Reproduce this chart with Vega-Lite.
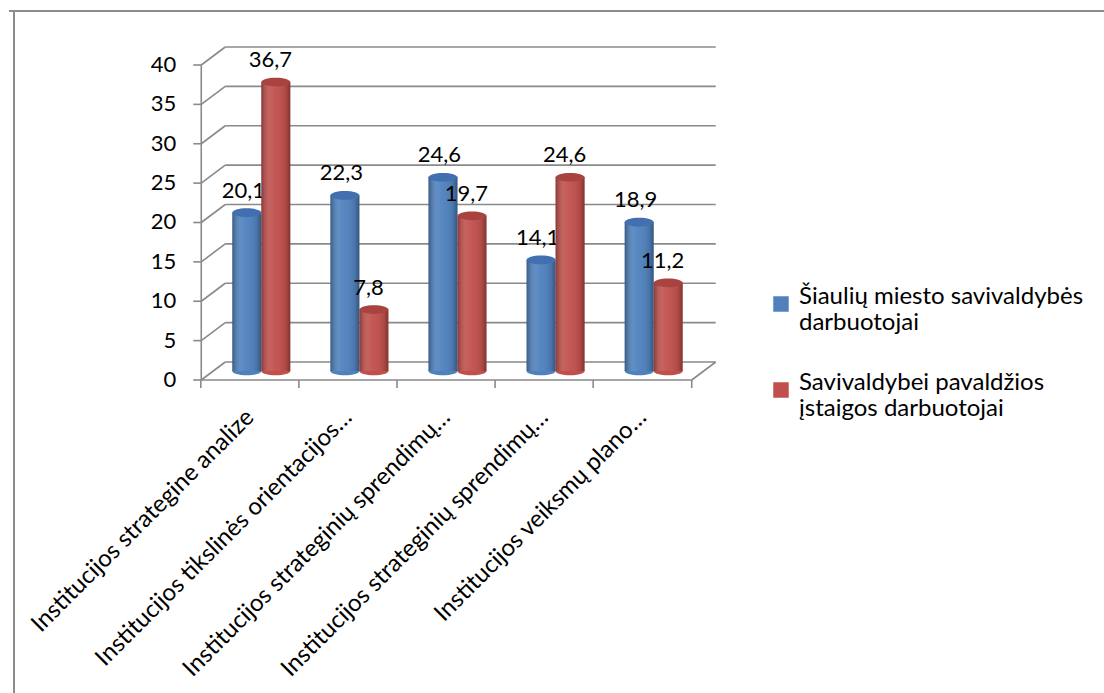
{
  "$schema": "https://vega.github.io/schema/vega-lite/v6.json",
  "width": 1095,
  "height": 682,
  "autosize": "none",
  "padding": {"left": 9, "top": 11, "right": 0, "bottom": 0},
  "background": "white",
  "datasets": {
    "duomenys": [
      {"nr": 1, "kategorija": "Institucijos strategine analize", "grupe": "Šiaulių miesto savivaldybės darbuotojai", "reiksme": 20.1},
      {"nr": 1, "kategorija": "Institucijos strategine analize", "grupe": "Savivaldybei pavaldžios įstaigos darbuotojai", "reiksme": 36.7},
      {"nr": 2, "kategorija": "Institucijos tikslinės orientacijos…", "grupe": "Šiaulių miesto savivaldybės darbuotojai", "reiksme": 22.3},
      {"nr": 2, "kategorija": "Institucijos tikslinės orientacijos…", "grupe": "Savivaldybei pavaldžios įstaigos darbuotojai", "reiksme": 7.8},
      {"nr": 3, "kategorija": "Institucijos strateginių sprendimų…", "grupe": "Šiaulių miesto savivaldybės darbuotojai", "reiksme": 24.6},
      {"nr": 3, "kategorija": "Institucijos strateginių sprendimų…", "grupe": "Savivaldybei pavaldžios įstaigos darbuotojai", "reiksme": 19.7},
      {"nr": 4, "kategorija": "Institucijos strateginių sprendimų…", "grupe": "Šiaulių miesto savivaldybės darbuotojai", "reiksme": 14.1},
      {"nr": 4, "kategorija": "Institucijos strateginių sprendimų…", "grupe": "Savivaldybei pavaldžios įstaigos darbuotojai", "reiksme": 24.6},
      {"nr": 5, "kategorija": "Institucijos veiksmų plano…", "grupe": "Šiaulių miesto savivaldybės darbuotojai", "reiksme": 18.9},
      {"nr": 5, "kategorija": "Institucijos veiksmų plano…", "grupe": "Savivaldybei pavaldžios įstaigos darbuotojai", "reiksme": 11.2}
    ],
    "tinklelis": [
      {"v": 0}, {"v": 5}, {"v": 10}, {"v": 15}, {"v": 20},
      {"v": 25}, {"v": 30}, {"v": 35}, {"v": 40}
    ]
  },
  "config": {
    "view": {"stroke": null},
    "font": "Lato",
    "locale": {
      "number": {"decimal": ",", "thousands": " ", "grouping": [3], "currency": ["", ""]}
    },
    "legend": {
      "labelFont": "Lato",
      "labelFontSize": 24,
      "labelColor": "#000000",
      "labelLimit": 400,
      "labelBaseline": "alphabetic",
      "labelOffset": 6,
      "symbolType": "square",
      "symbolSize": 240,
      "symbolStrokeWidth": 0,
      "rowPadding": 36,
      "padding": 0
    }
  },
  "layer": [
    {
      "description": "outer frame, top edge",
      "data": {"values": [{}]},
      "mark": {"type": "rule", "color": "#8C8C8C", "strokeWidth": 2},
      "encoding": {
        "y": {"datum": 46.857, "type": "quantitative", "scale": {"domain": [-39.746, 46.857], "nice": false, "zero": false}, "axis": null}
      }
    },
    {
      "description": "outer frame, left edge",
      "data": {"values": [{}]},
      "mark": {"type": "rule", "color": "#8C8C8C", "strokeWidth": 2},
      "encoding": {
        "x": {"datum": -1.409, "type": "quantitative", "scale": {"domain": [-1.409, 9.652], "nice": false, "zero": false}, "axis": null}
      }
    },
    {
      "description": "back wall gridlines",
      "data": {"name": "tinklelis"},
      "mark": {"type": "rule", "color": "#8A8A8A", "strokeWidth": 1.6, "xOffset": 24, "x2Offset": 24, "yOffset": -18},
      "encoding": {
        "x": {"datum": 0.5, "type": "quantitative"},
        "x2": {"datum": 5.5},
        "y": {"field": "v", "type": "quantitative"}
      }
    },
    {
      "description": "side wall diagonals",
      "data": {"name": "tinklelis"},
      "mark": {"type": "rule", "color": "#8A8A8A", "strokeWidth": 1.6, "x2Offset": 24, "y2Offset": -18},
      "encoding": {
        "x": {"datum": 0.5, "type": "quantitative"},
        "x2": {"datum": 0.5},
        "y": {"field": "v", "type": "quantitative"},
        "y2": {"field": "v"}
      }
    },
    {
      "description": "value axis ticks",
      "data": {"name": "tinklelis"},
      "mark": {"type": "rule", "color": "#8A8A8A", "strokeWidth": 1.6, "xOffset": -8},
      "encoding": {
        "x": {"datum": 0.5, "type": "quantitative"},
        "x2": {"datum": 0.5},
        "y": {"field": "v", "type": "quantitative"}
      }
    },
    {
      "description": "value axis labels",
      "data": {"name": "tinklelis"},
      "mark": {"type": "text", "align": "right", "baseline": "middle", "dx": -25, "fontSize": 22, "color": "#000000"},
      "encoding": {
        "x": {"datum": 0.5, "type": "quantitative"},
        "y": {"field": "v", "type": "quantitative"},
        "text": {"field": "v", "type": "quantitative", "format": "d"}
      }
    },
    {
      "description": "value axis line",
      "data": {"values": [{}]},
      "mark": {"type": "rule", "color": "#8A8A8A", "strokeWidth": 1.6},
      "encoding": {
        "x": {"datum": 0.5, "type": "quantitative"},
        "y": {"datum": 0, "type": "quantitative"},
        "y2": {"datum": 40}
      }
    },
    {
      "description": "floor front edge",
      "data": {"values": [{}]},
      "mark": {"type": "rule", "color": "#8A8A8A", "strokeWidth": 1.6},
      "encoding": {
        "x": {"datum": 0.5, "type": "quantitative"},
        "x2": {"datum": 5.5},
        "y": {"datum": 0, "type": "quantitative"}
      }
    },
    {
      "description": "floor right edge",
      "data": {"values": [{}]},
      "mark": {"type": "rule", "color": "#8A8A8A", "strokeWidth": 1.6, "x2Offset": 24, "y2Offset": -18},
      "encoding": {
        "x": {"datum": 5.5, "type": "quantitative"},
        "x2": {"datum": 5.5},
        "y": {"datum": 0, "type": "quantitative"},
        "y2": {"datum": 0}
      }
    },
    {
      "description": "category ticks at left boundary of each category",
      "data": {"name": "duomenys"},
      "transform": [{"filter": "datum.grupe === 'Šiaulių miesto savivaldybės darbuotojai'"}],
      "mark": {"type": "rule", "color": "#8A8A8A", "strokeWidth": 1.6, "xOffset": -49.5, "y2Offset": 8},
      "encoding": {
        "x": {"field": "nr", "type": "quantitative"},
        "y": {"datum": 0, "type": "quantitative"},
        "y2": {"datum": 0}
      }
    },
    {
      "description": "closing category tick",
      "data": {"values": [{}]},
      "mark": {"type": "rule", "color": "#8A8A8A", "strokeWidth": 1.6, "y2Offset": 8},
      "encoding": {
        "x": {"datum": 5.5, "type": "quantitative"},
        "y": {"datum": 0, "type": "quantitative"},
        "y2": {"datum": 0}
      }
    },
    {
      "description": "category labels; dx/dy act in the rotated frame",
      "data": {"name": "duomenys"},
      "transform": [{"filter": "datum.grupe === 'Šiaulių miesto savivaldybės darbuotojai'"}],
      "mark": {"type": "text", "angle": -45, "align": "right", "baseline": "middle", "dx": -24, "dy": 24, "fontSize": 24, "color": "#000000"},
      "encoding": {
        "x": {"field": "nr", "type": "quantitative"},
        "y": {"datum": 0, "type": "quantitative"},
        "text": {"field": "kategorija", "type": "nominal"}
      }
    },
    {
      "description": "first series cylinders",
      "data": {"name": "duomenys"},
      "transform": [{"filter": "datum.grupe === 'Šiaulių miesto savivaldybės darbuotojai'"}],
      "encoding": {
        "x": {"field": "nr", "type": "quantitative"}
      },
      "layer": [
        {
          "mark": {"type": "point", "filled": true, "opacity": 1, "size": 841, "xOffset": -3.5, "yOffset": -9,
                   "shape": "M-1,0C-1,-0.166 -0.552,-0.3 0,-0.3C0.552,-0.3 1,-0.166 1,0C1,0.166 0.552,0.3 0,0.3C-0.552,0.3 -1,0.166 -1,0Z"},
          "encoding": {
            "y": {"datum": 0, "type": "quantitative"},
            "color": {"field": "grupe", "type": "nominal"}
          }
        },
        {
          "mark": {"type": "bar", "width": 29, "xOffset": -3.5, "yOffset": -9, "y2Offset": -9},
          "encoding": {
            "y": {"field": "reiksme", "type": "quantitative", "stack": null},
            "y2": {"datum": 0},
            "color": {
              "field": "grupe", "type": "nominal",
              "scale": {"domain": ["Šiaulių miesto savivaldybės darbuotojai", "Savivaldybei pavaldžios įstaigos darbuotojai"], "range": ["#4F81BD", "#C0504D"]},
              "legend": {
                "title": null, "orient": "none", "legendX": 760, "legendY": 281,
                "labelExpr": "[slice(datum.label, 0, lastindexof(slice(datum.label, 0, 28), ' ')), slice(datum.label, lastindexof(slice(datum.label, 0, 28), ' ') + 1)]"
              }
            }
          }
        },
        {
          "mark": {"type": "bar", "width": 29, "xOffset": -3.5, "yOffset": -9, "y2Offset": -9,
                   "fill": {"gradient": "linear", "x1": 0, "y1": 0, "x2": 1, "y2": 0, "stops": [
                     {"offset": 0, "color": "rgba(0,0,0,0.30)"},
                     {"offset": 0.3, "color": "rgba(255,255,255,0.10)"},
                     {"offset": 0.5, "color": "rgba(255,255,255,0.04)"},
                     {"offset": 0.85, "color": "rgba(0,0,0,0.10)"},
                     {"offset": 1, "color": "rgba(0,0,0,0.34)"}]}},
          "encoding": {
            "y": {"field": "reiksme", "type": "quantitative", "stack": null},
            "y2": {"datum": 0}
          }
        },
        {
          "mark": {"type": "point", "filled": true, "opacity": 1, "size": 841, "xOffset": -3.5, "yOffset": -9, "fill": "#416FAF",
                   "shape": "M-1,0C-1,-0.166 -0.552,-0.3 0,-0.3C0.552,-0.3 1,-0.166 1,0C1,0.166 0.552,0.3 0,0.3C-0.552,0.3 -1,0.166 -1,0Z"},
          "encoding": {
            "y": {"field": "reiksme", "type": "quantitative"}
          }
        },
        {
          "mark": {"type": "text", "align": "center", "baseline": "middle", "dx": -7, "dy": -31, "fontSize": 22, "color": "#000000"},
          "encoding": {
            "y": {"field": "reiksme", "type": "quantitative"},
            "text": {"field": "reiksme", "type": "quantitative", "format": ".1f"}
          }
        }
      ]
    },
    {
      "description": "second series cylinders",
      "data": {"name": "duomenys"},
      "transform": [{"filter": "datum.grupe === 'Savivaldybei pavaldžios įstaigos darbuotojai'"}],
      "encoding": {
        "x": {"field": "nr", "type": "quantitative"}
      },
      "layer": [
        {
          "mark": {"type": "point", "filled": true, "opacity": 1, "size": 841, "xOffset": 25.5, "yOffset": -9,
                   "shape": "M-1,0C-1,-0.166 -0.552,-0.3 0,-0.3C0.552,-0.3 1,-0.166 1,0C1,0.166 0.552,0.3 0,0.3C-0.552,0.3 -1,0.166 -1,0Z"},
          "encoding": {
            "y": {"datum": 0, "type": "quantitative"},
            "color": {"field": "grupe", "type": "nominal"}
          }
        },
        {
          "mark": {"type": "bar", "width": 29, "xOffset": 25.5, "yOffset": -9, "y2Offset": -9},
          "encoding": {
            "y": {"field": "reiksme", "type": "quantitative", "stack": null},
            "y2": {"datum": 0},
            "color": {"field": "grupe", "type": "nominal"}
          }
        },
        {
          "mark": {"type": "bar", "width": 29, "xOffset": 25.5, "yOffset": -9, "y2Offset": -9,
                   "fill": {"gradient": "linear", "x1": 0, "y1": 0, "x2": 1, "y2": 0, "stops": [
                     {"offset": 0, "color": "rgba(0,0,0,0.30)"},
                     {"offset": 0.3, "color": "rgba(255,255,255,0.10)"},
                     {"offset": 0.5, "color": "rgba(255,255,255,0.04)"},
                     {"offset": 0.85, "color": "rgba(0,0,0,0.10)"},
                     {"offset": 1, "color": "rgba(0,0,0,0.34)"}]}},
          "encoding": {
            "y": {"field": "reiksme", "type": "quantitative", "stack": null},
            "y2": {"datum": 0}
          }
        },
        {
          "mark": {"type": "point", "filled": true, "opacity": 1, "size": 841, "xOffset": 25.5, "yOffset": -9, "fill": "#A8433F",
                   "shape": "M-1,0C-1,-0.166 -0.552,-0.3 0,-0.3C0.552,-0.3 1,-0.166 1,0C1,0.166 0.552,0.3 0,0.3C-0.552,0.3 -1,0.166 -1,0Z"},
          "encoding": {
            "y": {"field": "reiksme", "type": "quantitative"}
          }
        },
        {
          "mark": {"type": "text", "align": "center", "baseline": "middle", "dx": 20, "dy": -31, "fontSize": 22, "color": "#000000"},
          "encoding": {
            "y": {"field": "reiksme", "type": "quantitative"},
            "text": {"field": "reiksme", "type": "quantitative", "format": ".1f"}
          }
        }
      ]
    }
  ]
}
